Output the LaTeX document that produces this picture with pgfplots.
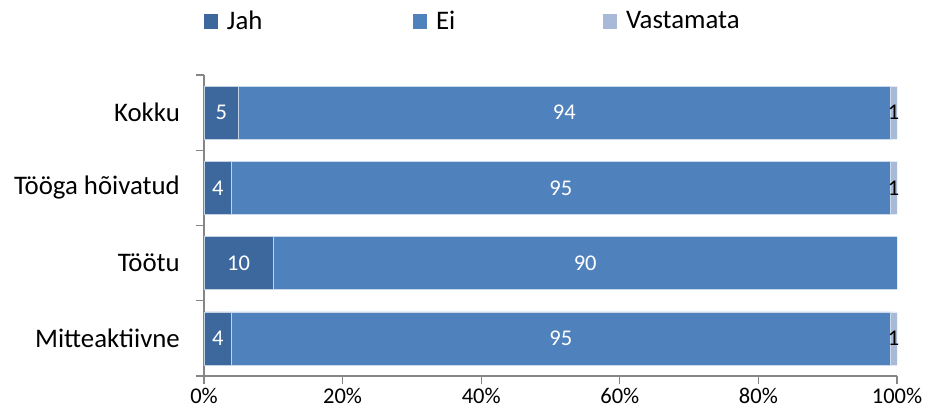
\documentclass[border=0pt]{standalone}
\usepackage{fontspec}
\setmainfont{Carlito}
\usepackage{pgfplots}
\pgfplotsset{compat=1.18}
\definecolor{jah}{RGB}{61,104,158}
\definecolor{ei}{RGB}{79,129,189}
\definecolor{vast}{RGB}{169,185,216}
\definecolor{axgray}{RGB}{134,134,134}

\begin{document}
\begin{tikzpicture}
\useasboundingbox (0,0) rectangle (928pt,416pt);
\begin{axis}[
  at={(204pt,40pt)}, anchor=south west,
  scale only axis, width=693pt, height=301pt,
  xbar stacked, bar width=53pt,
  xmin=0, xmax=100, ymin=-0.5, ymax=3.5,
  axis lines*=left,
  axis line style={draw=axgray, line width=1.2pt, -},
  tick align=outside,
  tick style={draw=axgray, line width=1.2pt},
  major tick length=8pt,
  xtick={0,20,...,100},
  xticklabels={0\%,20\%,40\%,60\%,80\%,100\%},
  xticklabel style={font=\fontsize{22.5}{26}\selectfont, inner sep=0pt, yshift=-4pt},
  ytick={-0.5,0.5,1.5,2.5,3.5},
  yticklabels={,,,,},
  extra y ticks={0,1,2,3},
  extra y tick labels={Mitteaktiivne,Töötu,Tööga hõivatud,Kokku},
  extra y tick style={major tick length=0pt,
    yticklabel style={font=\fontsize{26.8}{30}\selectfont, inner sep=0pt, xshift=-24pt}},
  point meta=explicit symbolic,
  nodes near coords,
  every node near coord/.append style={anchor=center,
    font=\fontsize{22.5}{26}\selectfont},
  legend columns=3,
  legend style={draw=none, fill=none, inner sep=0pt, outer sep=0pt,
    at={(0,1)}, anchor=west, yshift=54pt,
    font=\fontsize{26.8}{30}\selectfont,
    /tikz/every even column/.append style={column sep=7pt}},
  legend image code/.code={\fill[#1,draw=none] (0pt,-7.5pt) rectangle (14pt,7.5pt);},
]
\addplot[fill=jah, draw=white!70!jah, line width=0.6pt,
  every node near coord/.append style={text=white}]
  coordinates {(4,0) [4] (10,1) [10] (4,2) [4] (5,3) [5]};
\addlegendentry{\makebox[184pt][l]{\hspace{7pt}Jah}}
\addplot[fill=ei, draw=white!70!ei, line width=0.6pt,
  every node near coord/.append style={text=white}]
  coordinates {(95,0) [95] (90,1) [90] (95,2) [95] (94,3) [94]};
\addlegendentry{\makebox[165pt][l]{\hspace{7pt}Ei}}
\addplot[fill=vast, draw=white!70!vast, line width=0.6pt,
  every node near coord/.append style={text=black}]
  coordinates {(1,0) [1] (0,1) [] (1,2) [1] (1,3) [1]};
\addlegendentry{\makebox[150pt][l]{\hspace{7pt}Vastamata}}
\end{axis}
\end{tikzpicture}
\end{document}
